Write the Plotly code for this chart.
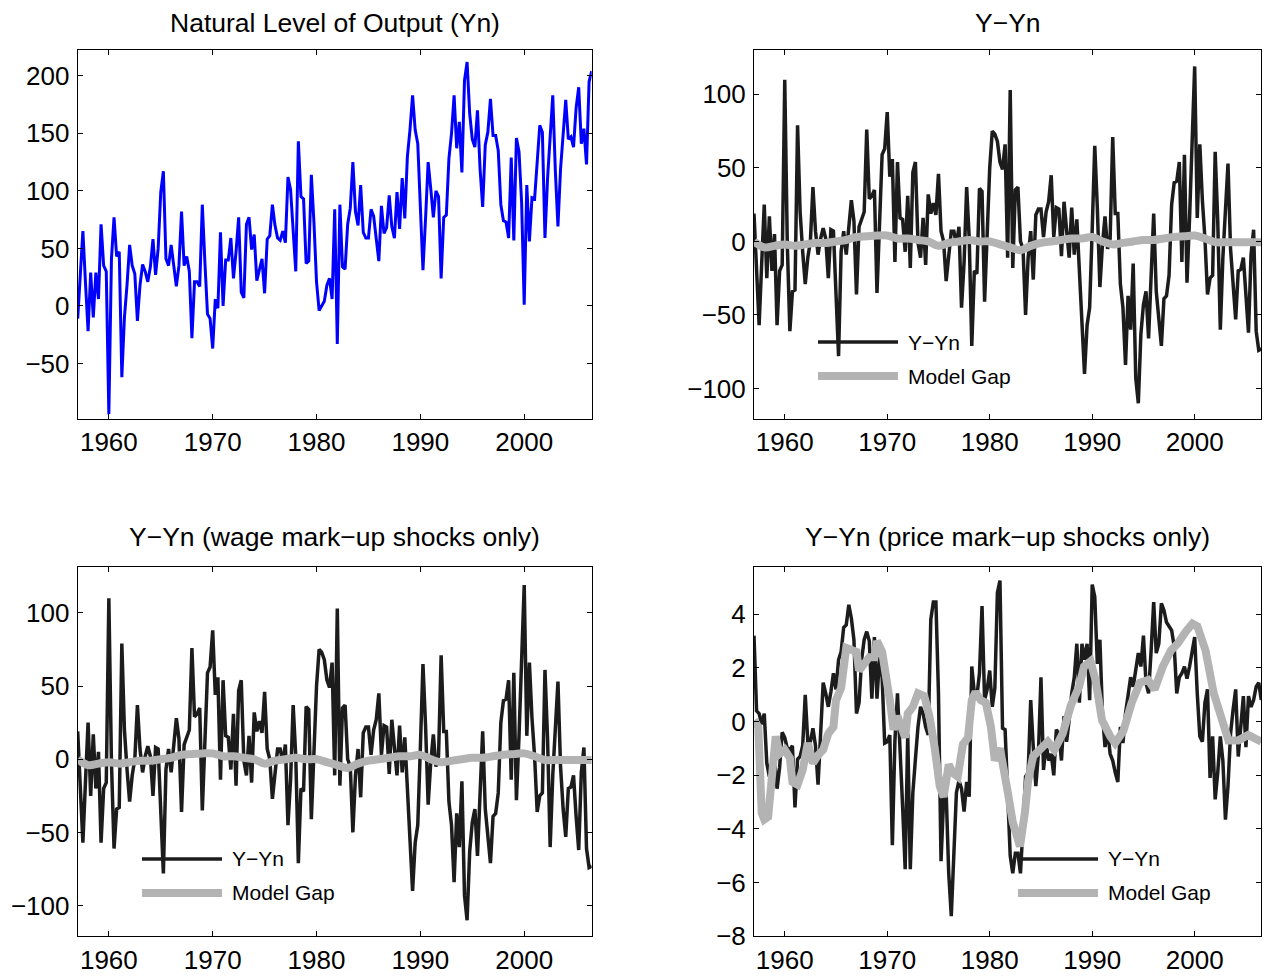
import plotly.graph_objects as go

# ---------------- data ----------------
# Natural level of output (Yn), quarterly 1957Q1-2006Q3
yn_values = [
    -11, 25, 65, 20,   -22, 29, -10, 29,   6, 71, 35, 30,   -94, 41, 77, 43,
    47, -62, -10, 18,  53, 35, 28, -13,    18, 36, 30, 21,  34, 58, 27, 50,
    99, 117, 41, 35,   53, 35, 17, 35,     82, 35, 43, 30,  -28, 21, 21, 17,
    88, 38, -7, -11,   -37, 6, -2, 64,     0, 40, 40, 59,   24, 47, 77, 12,
    7, 71, 77, 49,     62, 22, 32, 41,     11, 58, 61, 88,  70, 59, 57, 65,
    55, 112, 101, 70,  30, 143, 95, 93,    37, 39, 114, 73, 21, -4, 0, 4,
    18, 24, 6, 84,     -33, 88, 34, 32,    71, 85, 125, 82, 70, 105, 64, 59,
    59, 84, 78, 59,    39, 87, 63, 68,     96, 69, 59, 99,  67, 111, 76, 130,
    153, 183, 153, 141, 82, 31, 76, 125,   102, 77, 100, 95, 24, 77, 79, 128,
    150, 183, 137, 160, 116, 196, 212, 167, 145, 138, 170, 119, 86, 140, 151, 180,
    148, 148, 135, 88, 74, 73, 59, 129,    57, 146, 134, 90, 1, 105, 56, 94,
    93, 124, 157, 151, 59, 111, 151, 183,  117, 69, 119, 150, 179, 145, 147, 138,
    172, 190, 141, 154, 123, 195, 204,
]

# Y - Yn, quarterly 1957Q1-2006Q3
ygap_values = [
    19, -20, -57, -15,  25, -25, 17, -20,  5, -57, -20, -16,  110, -2, -61, -34,
    -33, 79, 20, -7,    -29, -11, 0, 37,   7, -9, 2, 9,      2, -25, 8, 7,
    -43, -78, -7, 7,    -9, 7, 28, 14,     -36, 10, 16, 20,  76, 29, 31, 35,
    -35, 14, 59, 63,    88, 44, 56, -14,   54, 16, 15, -7,   31, -18, 47, 54,
    -1, -11, 16, -16,   32, 19, 26, 18,    46, 7, 0, -27,    -7, 7, 7, -2,
    10, -45, -14, 37,   2, -71, -20, -22,   36, 34, -41, 7,   50, 75, 73, 68,
    54, 49, 66, -11,    103, -18, 35, 37,  0, -5, -50, -11,  7, -26, 18, 22,
    22, 3, 20, 27,      45, 3, 23, 22,     -10, 27, 7, -11,  23, -9, 15, -20,
    -48, -90, -57, -45, 8, 65, 23, -31,    -2, 17, -5, 2,    71, 19, 19, -29,
    -45, -84, -37, -60, -15, -93, -110, -63, -43, -34, -66, -29, 19, -34, -53, -71,
    -39, -37, -23, 25,  40, 41, 54, -14,   59, -28, 16, 66,  119, 16, 66, 28,
    2, -36, -25, -23,   61, 14, -60, -11,   20, 53, -5, -34,  -53, -20, -19, -11,
    -39, -62, -9, 8,    -61, -74, -73,
]

# Model gap (all shocks), sampled yearly
model_gap_years = [1957, 1958, 1959, 1960, 1961, 1962, 1963, 1964, 1965, 1966,
                   1967, 1968, 1969, 1970, 1971, 1972, 1973, 1974, 1975, 1976,
                   1977, 1978, 1979, 1980, 1981, 1982, 1983, 1984, 1985, 1986,
                   1987, 1988, 1989, 1990, 1991, 1992, 1993, 1994, 1995, 1996,
                   1997, 1998, 1999, 2000, 2001, 2002, 2003, 2004, 2005, 2006, 2006.5]
model_gap_values = [0, -4, -3, -2, -3, -2, -1, -1, 0, 1,
                    3, 3.5, 4, 4, 2, 2, 1, 0, -3, -1,
                    0, 1, 0, 0, -2, -4, -6, -3, -1, 0,
                    1, 2, 2, 3, 0, -2, -1, 0, 1, 1,
                    2, 3, 3.5, 4, 2, -0.5, -0.5, -0.5, -0.5, -0.5, -0.5]

# Wage mark-up shocks only
wage_ygap_values = list(ygap_values)
wage_gap_years = list(model_gap_years)
wage_gap_values = list(model_gap_values)

# Price mark-up shocks only: Y - Yn, quarterly 1957Q1-2006Q3
price_ygap_values = [
    3.2, 0.4, 0.3, -0.1,   0.3, -1.55, -2.05, -1.7,  -1.4, -2.5, -1.7, -0.4,
    -0.6, -1.0, -1.05, -0.9, -3.2, -1.4, -1.3, -0.9,  1.0, -0.75, -0.75, -0.25,
    -0.9, -2.35, -0.45, 1.45, 1.05, 0.55, 1.1, 1.8,   1.2, 2.3, 2.6, 3.5,
    3.6, 4.35, 3.85, 3.05,  0.3, 0.7, 2.3, 3.05,      3.35, 3.0, 0.85, 3.15,
    0.85, 2.4, 1.65, -0.8,  -0.75, -0.5, -4.6, -0.7,  1.05, -0.75, -3.15, -5.5,
    -0.45, -5.5, -2.65, -1.4, -0.2, 0.55, 0.3, -0.2,  -0.5, 3.8, 4.45, 4.45,
    1.05, -5.2, -2.9, -2.65, -5.65, -7.25, -5.15, -2.65, -2.2, -2.5, -3.35, -2.25,
    -2.8, 2.05, 1.05, 0.95, 1.8, 4.3, 0.8, 1.2,        1.9, 0.55, 1.25, 4.8,
    5.25, -0.25, -0.3, -3.0, -5.0, -5.65, -4.9, -4.9,  -5.65, -3.9, -2.05, -1.9,
    0.8, -0.95, -2.4, -1.2, 1.65, -1.8, -0.8, -1.45,   -1.2, -2.0, -0.3, -0.45,
    -1.45, 0.2, -0.75, 0.05, 1.05, 1.65, 2.9, 0.7,     2.9, 2.3, 2.9, 0.8,
    5.1, 4.65, 2.15, 3.05,  0.3, -0.95, -0.3, -1.2,    -1.45, -1.9, -2.25, -0.2,
    -0.8, 0.3, 1.05, 1.65,  1.3, 2.05, 2.55, 2.05,     3.2, 1.45, 1.05, 2.65,
    4.45, 2.55, 2.9, 4.4,   4.15, 3.7, 3.55, 3.4,      2.8, 1.05, 1.65, 1.8,
    2.05, 1.6, 2.05, 2.55,  3.15, 1.05, -0.55, -0.75,  0.7, 1.2, -2.1, -0.55,
    -2.9, -1.9, -0.55, -1.45, -3.65, -2.4, -0.45, 0.45, 1.2, -1.3, -0.2, 0.95,
    -0.95, 0.95, 0.55, 0.8, 1.3, 1.45, 0.8,
]

price_gap_years = [
    1957.0, 1957.42, 1957.75, 1958.0, 1958.38, 1958.75, 1959.12, 1959.5, 1960.0, 1960.5,
    1960.75, 1961.25, 1961.75, 1962.25, 1962.75, 1963.25, 1963.75, 1964.25, 1964.75, 1965.0,
    1965.5, 1966.0, 1966.5, 1967.0, 1967.25, 1967.75, 1968.25, 1968.75, 1969.0, 1969.5,
    1970.0, 1970.25, 1970.62, 1971.0, 1971.75, 1972.0, 1972.5, 1973.0, 1973.62, 1974.12,
    1974.62, 1975.12, 1975.5, 1976.0, 1976.38, 1976.88, 1977.38, 1977.88, 1978.25, 1978.62,
    1979.12, 1979.62, 1980.12, 1980.5, 1981.0, 1981.38, 1981.75, 1982.25, 1982.63, 1982.95,
    1983.43, 1983.75, 1984.23, 1984.87, 1985.67, 1986.31, 1987.12, 1987.92, 1988.72, 1989.2,
    1989.84, 1990.32, 1990.96, 1991.76, 1992.24, 1993.04, 1993.85, 1994.65, 1995.45, 1996.09,
    1996.89, 1997.69, 1998.33, 1999.13, 1999.78, 2000.26, 2001.06, 2001.86, 2002.5, 2003.3,
    2004.26, 2005.22, 2006.5,
]
price_gap_values = [
    0.05, -0.2, -3.4, -3.65, -3.55, -1.9, -0.55, -1.2, -1.05, -1.35,
    -2.25, -2.35, -1.8, -0.8, -1.55, -1.25, -1.05, -0.45, -0.2, 0.8,
    1.25, 2.75, 2.65, 2.6, 1.9, 2.1, 2.4, 2.4, 3.0, 2.6,
    1.65, 0.8, -0.3, 0.2, -0.6, 0.3, 0.55, 1.05, 0.95, 0.2,
    -0.95, -2.4, -2.8, -1.6, -1.9, -2.05, -0.85, -0.6, 0.8, 1.1,
    0.8, 0.7, -0.2, -1.45, -1.0, -1.7, -2.6, -3.75, -4.2, -4.65,
    -3.4, -2.2, -1.3, -1.05, -0.75, -1.05, -0.45, 0.6, 1.3, 2.05,
    2.25, 1.55, 0.05, -0.55, -0.8, -0.35, 0.7, 1.45, 1.55, 1.2,
    2.05, 2.65, 2.9, 3.35, 3.65, 3.55, 2.65, 1.05, 0.3, -0.7,
    -0.7, -0.5, -0.75,
]

quarters = [1957 + 0.25 * i for i in range(len(yn_values))]

titles = ["Natural Level of Output (Yn)", "Y\u2212Yn",
          "Y\u2212Yn (wage mark\u2212up shocks only)",
          "Y\u2212Yn (price mark\u2212up shocks only)"]
x_ticks = [1960, 1970, 1980, 1990, 2000]

# ---------------- styling ----------------
FONT = "Liberation Sans, Arial, sans-serif"
BLACK = "#1c1c1c"
GRAY = "#b3b3b3"
BLUE = "#0000ff"
# Page keeps the default 8px body margin. The captured page is ~991px tall and
# is shown at 976px, so vertical target positions are stretched by KY.
PAD = 8
KY = 991 / 976
W, H = 1270 - 2 * PAD, 974


def fx(px):
    return (px - PAD) / W


def fy(py):
    return 1 - (py * KY - PAD) / H


xdom_l = [fx(77.7), fx(591.7)]
xdom_r = [fx(754), fx(1261.3)]
ydom_t = [fy(418.5), fy(50)]
ydom_b = [fy(936.5), fy(567.5)]

fig = go.Figure()

fig.add_trace(go.Scatter(x=quarters, y=yn_values, mode="lines",
                         line=dict(color=BLUE, width=3), xaxis="x", yaxis="y",
                         showlegend=False))

fig.add_trace(go.Scatter(x=quarters, y=ygap_values, mode="lines",
                         line=dict(color=BLACK, width=3.5), xaxis="x2", yaxis="y2",
                         showlegend=False))
fig.add_trace(go.Scatter(x=model_gap_years, y=model_gap_values, mode="lines",
                         line=dict(color=GRAY, width=8, shape="spline"), xaxis="x2", yaxis="y2",
                         showlegend=False))

fig.add_trace(go.Scatter(x=quarters, y=wage_ygap_values, mode="lines",
                         line=dict(color=BLACK, width=3.5), xaxis="x3", yaxis="y3",
                         showlegend=False))
fig.add_trace(go.Scatter(x=wage_gap_years, y=wage_gap_values, mode="lines",
                         line=dict(color=GRAY, width=8, shape="spline"), xaxis="x3", yaxis="y3",
                         showlegend=False))

fig.add_trace(go.Scatter(x=quarters, y=price_ygap_values, mode="lines",
                         line=dict(color=BLACK, width=3.5), xaxis="x4", yaxis="y4",
                         showlegend=False))
fig.add_trace(go.Scatter(x=price_gap_years, y=price_gap_values, mode="lines",
                         line=dict(color=GRAY, width=8), xaxis="x4", yaxis="y4",
                         showlegend=False))


def xaxis(dom, anchor):
    return dict(domain=dom, anchor=anchor, range=[1957, 2006.5], tickvals=x_ticks,
                showline=True, linecolor="black", linewidth=1, mirror="ticks",
                ticks="inside", ticklen=5, tickwidth=1, tickcolor="black",
                showgrid=False, zeroline=False,
                tickfont=dict(family=FONT, size=26, color="black"))


def yaxis(dom, anchor, rng, tickvals):
    return dict(domain=dom, anchor=anchor, range=rng, tickvals=tickvals,
                showline=True, linecolor="black", linewidth=1, mirror="ticks",
                ticks="inside", ticklen=5, tickwidth=1, tickcolor="black",
                showgrid=False, zeroline=False, ticklabelstandoff=2,
                tickfont=dict(family=FONT, size=26, color="black"))


fig.update_layout(
    width=W, height=H, autosize=False,
    margin=dict(l=0, r=0, t=0, b=0),
    paper_bgcolor="white", plot_bgcolor="white",
    showlegend=False,
    xaxis=xaxis(xdom_l, "y"),
    yaxis=yaxis(ydom_t, "x", [-97.8, 222.3], [-50, 0, 50, 100, 150, 200]),
    xaxis2=xaxis(xdom_r, "y2"),
    yaxis2=yaxis(ydom_t, "x2", [-120.4, 130.1], [-100, -50, 0, 50, 100]),
    xaxis3=xaxis(xdom_l, "y3"),
    yaxis3=yaxis(ydom_b, "x3", [-121, 131], [-100, -50, 0, 50, 100]),
    xaxis4=xaxis(xdom_r, "y4"),
    yaxis4=yaxis(ydom_b, "x4", [-8, 5.74], [-8, -6, -4, -2, 0, 2, 4]),
)

# subplot titles
title_pos = [((xdom_l[0] + xdom_l[1]) / 2, fy(23)),
             ((xdom_r[0] + xdom_r[1]) / 2, fy(23)),
             ((xdom_l[0] + xdom_l[1]) / 2, fy(537)),
             ((xdom_r[0] + xdom_r[1]) / 2, fy(537))]
for t, (tx, ty) in zip(titles, title_pos):
    fig.add_annotation(text=t, x=tx, y=ty, xref="paper", yref="paper",
                       xanchor="center", yanchor="middle", showarrow=False,
                       font=dict(family=FONT, size=26.5, color="black"))

# legends (no box), drawn on top of the data
legend_spots = [(818, 342), (142, 859), (1018, 859)]
for lx, ly in legend_spots:
    for dy, col, wid, label in [(0, BLACK, 3.5, "Y\u2212Yn"), (34, GRAY, 8, "Model Gap")]:
        yy = fy(ly + dy)
        fig.add_shape(type="line", xref="paper", yref="paper",
                      x0=fx(lx), x1=fx(lx + 80), y0=yy, y1=yy,
                      line=dict(color=col, width=wid), layer="above")
        fig.add_annotation(text=label, x=fx(lx + 88), y=yy, xref="paper", yref="paper",
                           xanchor="left", yanchor="middle", showarrow=False,
                           font=dict(family=FONT, size=21, color="black"))

fig.write_html("out.html", config={"displayModeBar": False})
